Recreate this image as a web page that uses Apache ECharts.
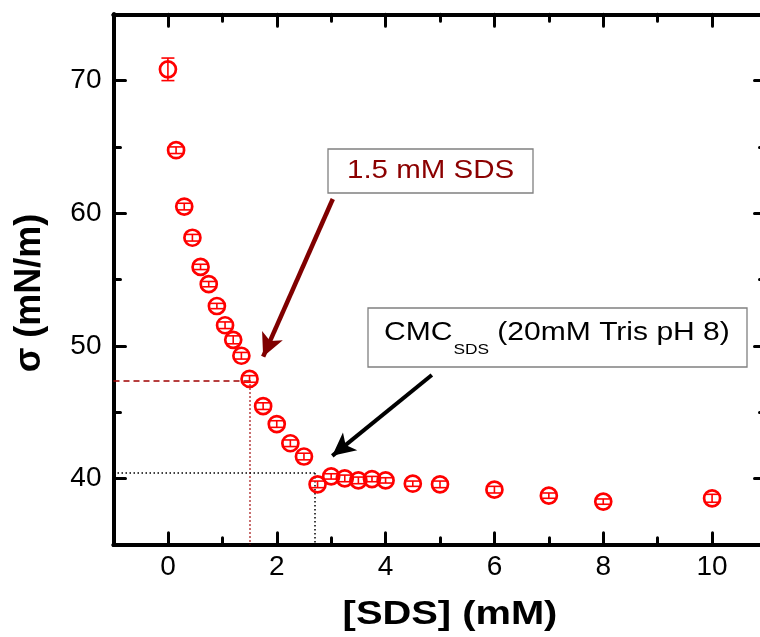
<!DOCTYPE html>
<html><head><meta charset="utf-8">
<script src="https://cdn.jsdelivr.net/npm/echarts@6/dist/echarts.min.js"></script>
<style>html,body{margin:0;padding:0;background:#fff}#c{width:760px;height:637px}</style>
</head><body><div id="c"></div>
<script>
// ---- data ----
const conc = [0, 0.15, 0.3, 0.45, 0.6, 0.75, 0.9, 1.05, 1.2, 1.35, 1.5, 1.75, 2.0, 2.25, 2.5, 2.75, 3.0, 3.25, 3.5, 3.75, 4.0, 4.5, 5.0, 6.0, 7.0, 8.0, 10.0];
const tension = [70.85, 64.75, 60.5, 58.15, 55.95, 54.65, 53.0, 51.55, 50.45, 49.25, 47.5, 45.45, 44.1, 42.65, 41.65, 39.55, 40.15, 40.0, 39.85, 39.95, 39.85, 39.6, 39.55, 39.15, 38.7, 38.25, 38.5];
const tensionErr = [0.85, 0.25, 0.25, 0.25, 0.2, 0.2, 0.2, 0.25, 0.3, 0.25, 0.25, 0.25, 0.25, 0.25, 0.25, 0.25, 0.2, 0.25, 0.25, 0.2, 0.2, 0.2, 0.25, 0.25, 0.2, 0.2, 0.3];
const xMajorTicks = [0, 2, 4, 6, 8, 10];
const xMinorTicks = [1, 3, 5, 7, 9];
const yMajorTicks = [40, 50, 60, 70];
const yMinorTicks = [45, 55, 65];
// guide lines [x, y]
const sdsPoint = [1.5, 47.4];
const cmcPoint = [2.7, 40.4];
// arrows [start, head]
const sdsArrow = [[3.03, 61.07], [1.75, 49.18]];
const cmcArrow = [[4.85, 47.8], [3.02, 41.7]];

const X_MIN = -1, X_MAX = 11, Y_MIN = 35, Y_MAX = 75;
const FONT = '"Liberation Sans", Arial, sans-serif';

function xAx(pos, ticks, len, labels) {
  return {
    type: 'value', position: pos, min: X_MIN, max: X_MAX,
    axisLine: { show: true, onZero: false, lineStyle: { color: '#000', width: 4 } },
    axisTick: { show: true, inside: true, length: len, customValues: ticks, lineStyle: { color: '#000', width: 3, cap: 'round' } },
    axisLabel: labels ? { show: true, customValues: ticks, margin: 9, color: '#000', fontSize: 28, fontFamily: FONT } : { show: false },
    splitLine: { show: false }
  };
}
function yAx(pos, ticks, len, labels) {
  return {
    type: 'value', position: pos, min: Y_MIN, max: Y_MAX,
    axisLine: { show: true, onZero: false, lineStyle: { color: '#000', width: 4 } },
    axisTick: { show: true, inside: true, length: len, customValues: ticks, lineStyle: { color: '#000', width: 3, cap: 'round' } },
    axisLabel: labels ? { show: true, customValues: ticks, margin: 12, color: '#000', fontSize: 28, fontFamily: FONT } : { show: false },
    splitLine: { show: false }
  };
}

const ctx = document.createElement('canvas').getContext('2d');
function tw(t, f) { ctx.font = f; return ctx.measureText(t).width; }
const S2 = 1.155;
const cmcX = 384;
const w1 = tw('CMC', '26px ' + FONT) * S2;
const w2 = tw('SDS', '15px ' + FONT) * S2;

const chart = echarts.init(document.getElementById('c'), null, { renderer: 'canvas' });
chart.setOption({
  animation: false,
  backgroundColor: '#fff',
  grid: { left: 113.5, top: 14.3, right: -6.5, bottom: 92.3, containLabel: false, outerBoundsMode: 'none' },
  xAxis: [xAx('bottom', xMajorTicks, 12, true), xAx('bottom', xMinorTicks, 7, false), xAx('top', xMajorTicks, 12, false), xAx('top', xMinorTicks, 7, false)],
  yAxis: [yAx('left', yMajorTicks, 12, true), yAx('left', yMinorTicks, 7, false), yAx('right', yMajorTicks, 12, false), yAx('right', yMinorTicks, 7, false)],
  series: [
    {
      type: 'line', data: [], xAxisIndex: 0, yAxisIndex: 0, silent: true, z: 1,
      markLine: {
        silent: true, symbol: ['none', 'none'], label: { show: false }, animation: false,
        data: [
          [{ coord: [X_MIN, sdsPoint[1]], lineStyle: { color: '#a00000', width: 1.5, type: [6, 4] } }, { coord: [sdsPoint[0], sdsPoint[1]] }],
          [{ coord: [sdsPoint[0], sdsPoint[1]], lineStyle: { color: '#a00000', width: 1.5, type: [1.5, 2.5] } }, { coord: [sdsPoint[0], Y_MIN] }],
          [{ coord: [X_MIN, cmcPoint[1]], lineStyle: { color: '#000', width: 1.5, type: [1.5, 2.5] } }, { coord: [cmcPoint[0], cmcPoint[1]] }],
          [{ coord: [cmcPoint[0], cmcPoint[1]], lineStyle: { color: '#000', width: 1.5, type: [1.5, 2.5] } }, { coord: [cmcPoint[0], Y_MIN] }]
        ]
      }
    },
    {
      type: 'custom', name: 'σ', xAxisIndex: 0, yAxisIndex: 0, z: 5,
      data: conc.map((x, i) => [x, tension[i], tensionErr[i]]),
      renderItem: function (params, api) {
        const x = api.value(0), y = api.value(1), e = api.value(2);
        const c = api.coord([x, y]);
        const t = api.coord([x, y + e]);
        const b = api.coord([x, y - e]);
        const cw = 6.5, st = { stroke: '#ff0000', lineWidth: 1.6, fill: 'none' };
        return {
          type: 'group', children: [
            { type: 'line', shape: { x1: c[0], y1: t[1], x2: c[0], y2: b[1] }, style: st },
            { type: 'line', shape: { x1: c[0] - cw, y1: t[1], x2: c[0] + cw, y2: t[1] }, style: st },
            { type: 'line', shape: { x1: c[0] - cw, y1: b[1], x2: c[0] + cw, y2: b[1] }, style: st },
            { type: 'circle', shape: { cx: c[0], cy: c[1], r: 8 }, style: { stroke: '#ff0000', lineWidth: 2.7, fill: 'none' } }
          ]
        };
      }
    },
    {
      type: 'line', data: [], xAxisIndex: 0, yAxisIndex: 0, silent: true, z: 6,
      markLine: {
        silent: true, symbol: ['none', 'arrow'], symbolSize: [17, 23], label: { show: false }, animation: false,
        data: [
          [{ coord: sdsArrow[0], lineStyle: { color: '#800000', width: 4.5, type: 'solid' }, itemStyle: { color: '#800000' } }, { coord: sdsArrow[1] }],
          [{ coord: cmcArrow[0], lineStyle: { color: '#000', width: 4, type: 'solid' }, itemStyle: { color: '#000' } }, { coord: cmcArrow[1] }]
        ]
      }
    }
  ],
  graphic: [
    { type: 'rect', shape: { x: 328, y: 149, width: 205, height: 44 }, style: { fill: '#fff', stroke: '#808080', lineWidth: 1.3 }, z: 10 },
    { type: 'text', x: 347, y: 171, scaleX: 1.18, style: { text: '1.5 mM SDS', fill: '#8b0000', font: '25px ' + FONT, textAlign: 'left', textVerticalAlign: 'middle' }, z: 11 },
    { type: 'rect', shape: { x: 368, y: 308, width: 379, height: 59 }, style: { fill: '#fff', stroke: '#808080', lineWidth: 1.3 }, z: 10 },
    { type: 'text', x: cmcX, y: 333, scaleX: S2, style: { text: 'CMC', fill: '#000', font: '26px ' + FONT, textAlign: 'left', textVerticalAlign: 'middle' }, z: 11 },
    { type: 'text', x: cmcX + w1 + 1, y: 349.5, scaleX: S2, style: { text: 'SDS', fill: '#000', font: '15px ' + FONT, textAlign: 'left', textVerticalAlign: 'middle' }, z: 11 },
    { type: 'text', x: cmcX + w1 + w2 + 1, y: 333, scaleX: S2, style: { text: ' (20mM Tris pH 8)', fill: '#000', font: '26px ' + FONT, textAlign: 'left', textVerticalAlign: 'middle' }, z: 11 },
    { type: 'text', x: 450, y: 615, scaleX: 1.19, style: { text: '[SDS] (mM)', fill: '#000', font: 'bold 33.5px ' + FONT, textAlign: 'center', textVerticalAlign: 'middle' }, z: 11 },
    { type: 'text', x: 30, y: 293, rotation: Math.PI / 2, style: { text: 'σ (mN/m)', fill: '#000', font: 'bold 36px ' + FONT, textAlign: 'center', textVerticalAlign: 'middle' }, z: 11 }
  ]
});
</script>
</body></html>
